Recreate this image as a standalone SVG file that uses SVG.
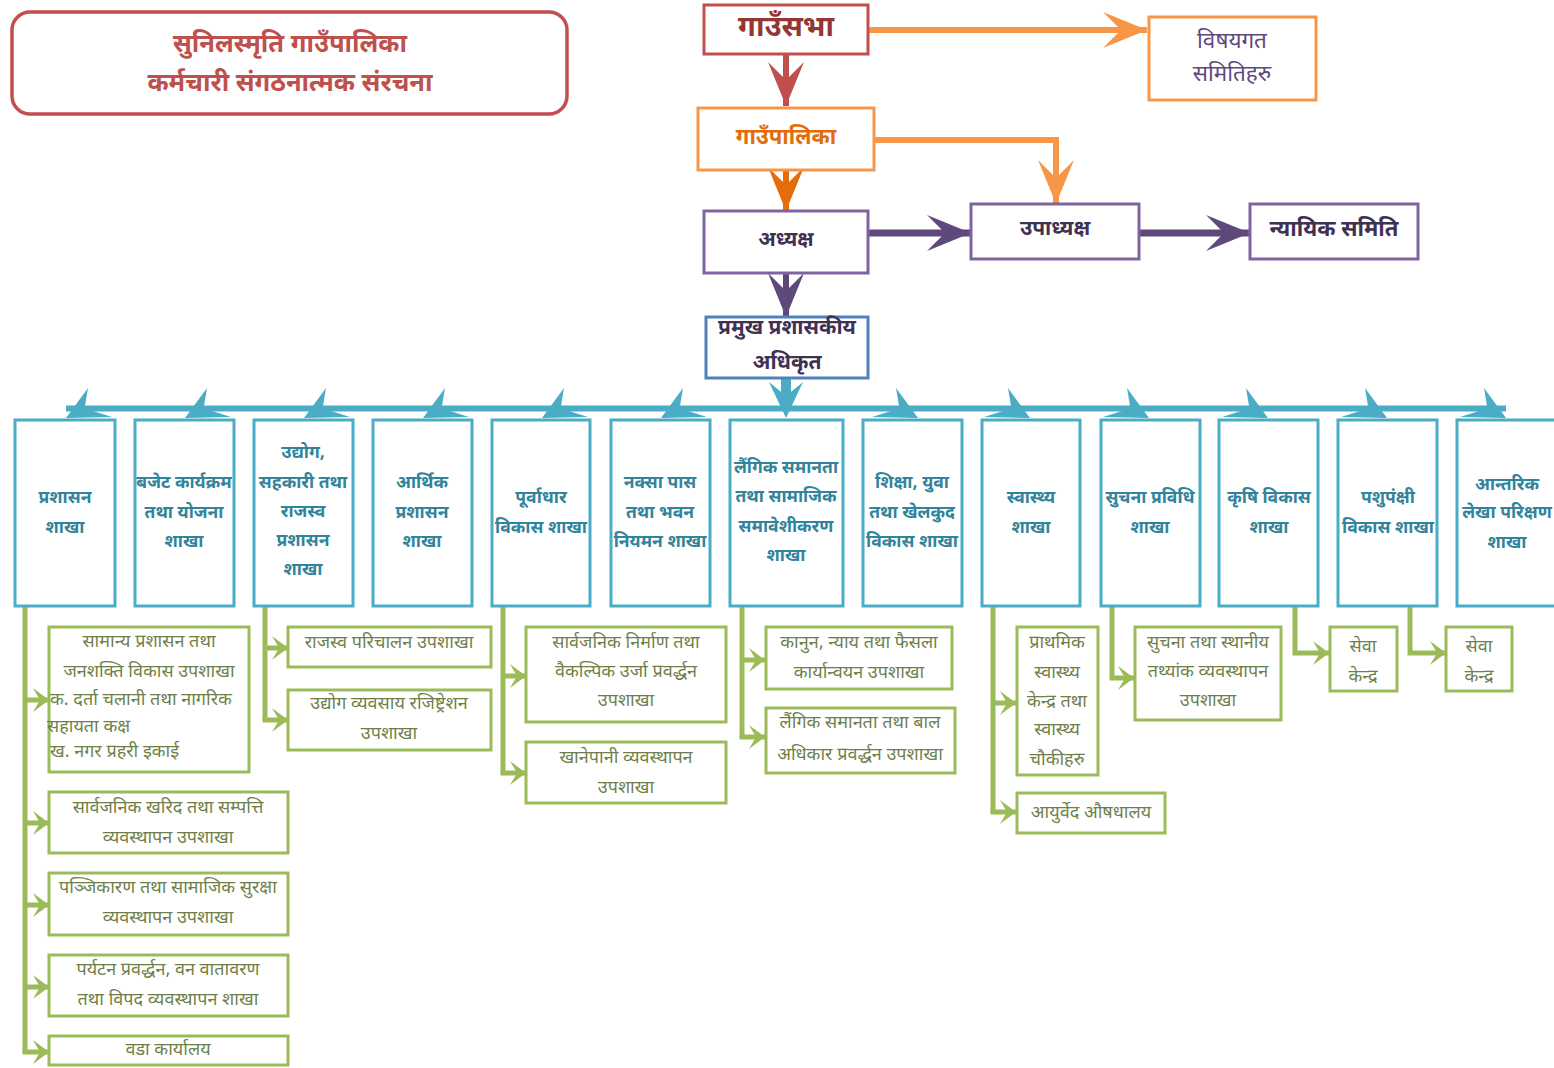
<svg xmlns="http://www.w3.org/2000/svg" width="1554" height="1068" viewBox="0 0 1554 1068">
<defs>
<style>
text{font-family:"Noto Sans Devanagari","Lohit Devanagari","Mangal","Noto Serif Devanagari","Noto Sans",sans-serif;text-anchor:middle;dominant-baseline:central}
.tb{fill:#fff;stroke-width:3}
.br{fill:#fff;stroke:#4BACC6;stroke-width:3}
.br-t{fill:#31849B;font-size:17.5px;font-weight:bold}
.sb{fill:#fff;stroke:#9BBB59;stroke-width:3}
.sb-t{fill:#6F7F4A;font-size:18px}
.l{text-anchor:start}
.gl{fill:none;stroke:#9BBB59;stroke-width:5}
.ga{fill:none;stroke:#9BBB59;stroke-width:5;marker-end:url(#gch)}
</style>
<marker id="gch" markerUnits="userSpaceOnUse" markerWidth="18" markerHeight="26" refX="17" refY="13" orient="auto" viewBox="0 0 18 26"><path d="M1,1 L17,13 L1,25 L8,13 Z" fill="#9BBB59"/></marker>
<marker id="chR" markerUnits="userSpaceOnUse" markerWidth="46" markerHeight="38" refX="44" refY="19" orient="auto" viewBox="0 0 46 38"><path d="M0,1 L44,19 L0,37 L18,19 Z" fill="#C0504D"/></marker>
<marker id="chO" markerUnits="userSpaceOnUse" markerWidth="46" markerHeight="38" refX="44" refY="19" orient="auto" viewBox="0 0 46 38"><path d="M0,1 L44,19 L0,37 L18,19 Z" fill="#F79646"/></marker>
<marker id="chD" markerUnits="userSpaceOnUse" markerWidth="46" markerHeight="38" refX="44" refY="19" orient="auto" viewBox="0 0 46 38"><path d="M0,1 L44,19 L0,37 L18,19 Z" fill="#E46C0A"/></marker>
<marker id="chP" markerUnits="userSpaceOnUse" markerWidth="46" markerHeight="38" refX="44" refY="19" orient="auto" viewBox="0 0 46 38"><path d="M0,1 L44,19 L0,37 L18,19 Z" fill="#5F497A"/></marker>
</defs>

<g id="title">
<rect x="12" y="12" width="555" height="102" rx="18" fill="#fff" stroke="#C0504D" stroke-width="3.5"/>
<text x="290" y="45" fill="#C0504D" font-size="25.5" font-weight="bold">सुनिलस्मृति गाउँपालिका</text>
<text x="290" y="84" fill="#C0504D" font-size="25.5" font-weight="bold">कर्मचारी संगठनात्मक संरचना</text>
</g>

<g id="connectors">
<path d="M786,54 V106" stroke="#C0504D" stroke-width="6" fill="none" marker-end="url(#chR)"/>
<path d="M868,30 H1147" stroke="#F79646" stroke-width="6" fill="none" marker-end="url(#chO)"/>
<path d="M874,140 H1056 V204" stroke="#F79646" stroke-width="6" fill="none" marker-end="url(#chO)"/>
<path d="M786,170 V211" stroke="#E46C0A" stroke-width="6" fill="none" marker-end="url(#chD)"/>
<path d="M868,233 H971" stroke="#5F497A" stroke-width="7" fill="none" marker-end="url(#chP)"/>
<path d="M1139,233 H1250" stroke="#5F497A" stroke-width="7" fill="none" marker-end="url(#chP)"/>
<path d="M786,273 V317" stroke="#5F497A" stroke-width="6" fill="none" marker-end="url(#chP)"/>
<g fill="#4BACC6">
<rect x="66" y="405.5" width="1440" height="6"/>
<rect x="781" y="378" width="10" height="24"/>
<path d="M769,382 L786,396 L803,382 L786,418 Z"/>
<path d="M66,418 L88,388 L85,406 L93,411 L112,417 Z"/>
<path d="M185,418 L207,388 L204,406 L212,411 L231,417 Z"/>
<path d="M304,418 L326,388 L323,406 L331,411 L350,417 Z"/>
<path d="M423,418 L445,388 L442,406 L450,411 L469,417 Z"/>
<path d="M542,418 L564,388 L561,406 L569,411 L588,417 Z"/>
<path d="M661,418 L683,388 L680,406 L688,411 L707,417 Z"/>
<path d="M918,418 L896,388 L899,406 L891,411 L872,417 Z"/>
<path d="M1030,418 L1008,388 L1011,406 L1003,411 L984,417 Z"/>
<path d="M1149,418 L1127,388 L1130,406 L1122,411 L1103,417 Z"/>
<path d="M1268,418 L1246,388 L1249,406 L1241,411 L1222,417 Z"/>
<path d="M1387,418 L1365,388 L1368,406 L1360,411 L1341,417 Z"/>
<path d="M1506,418 L1484,388 L1487,406 L1479,411 L1460,417 Z"/>
</g>
<path class="gl" d="M25,606 V1052"/>
<path class="ga" d="M25,700 H49"/>
<path class="ga" d="M25,823 H49"/>
<path class="ga" d="M25,905 H49"/>
<path class="ga" d="M25,987 H49"/>
<path class="ga" d="M25,1050 V1052 H49"/>
<path class="gl" d="M265,606 V720"/>
<path class="ga" d="M265,648 H288"/>
<path class="ga" d="M265,718 V720 H288"/>
<path class="gl" d="M503,606 V773"/>
<path class="ga" d="M503,676 H526"/>
<path class="ga" d="M503,771 V773 H526"/>
<path class="gl" d="M742,606 V737"/>
<path class="ga" d="M742,660 H765"/>
<path class="ga" d="M742,735 V737 H765"/>
<path class="gl" d="M993,606 V812"/>
<path class="ga" d="M993,703 H1016"/>
<path class="ga" d="M993,810 V812 H1016"/>
<path class="ga" d="M1112,606 V678 H1134"/>
<path class="ga" d="M1295,606 V653 H1329"/>
<path class="ga" d="M1410,606 V653 H1446"/>
</g>

<g id="gaunsabha"><rect class="tb" x="704" y="5" width="164" height="49" stroke="#C0504D"/><text x="786" y="29" fill="#943634" font-size="29" font-weight="bold">गाउँसभा</text></g>
<g id="bishayagat"><rect class="tb" x="1149" y="17" width="167" height="83" stroke="#F79646"/><text x="1232" y="42" fill="#5F497A" font-size="22.5">विषयगत</text><text x="1232" y="75" fill="#5F497A" font-size="22.5">समितिहरु</text></g>
<g id="gaunpalika"><rect class="tb" x="698" y="108" width="176" height="62" stroke="#F79646"/><text x="786" y="138" fill="#E36C09" font-size="22" font-weight="bold">गाउँपालिका</text></g>
<g id="adhyaksha"><rect class="tb" x="704" y="211" width="164" height="62" stroke="#8064A2"/><text x="786" y="241" fill="#3F3151" font-size="20.5" font-weight="bold">अध्यक्ष</text></g>
<g id="upadhyaksha"><rect class="tb" x="971" y="204" width="168" height="55" stroke="#8064A2"/><text x="1055" y="230" fill="#3F3151" font-size="21" font-weight="bold">उपाध्यक्ष</text></g>
<g id="nyayik"><rect class="tb" x="1250" y="204" width="168" height="55" stroke="#8064A2"/><text x="1334" y="230" fill="#3F3151" font-size="22" font-weight="bold">न्यायिक समिति</text></g>
<g id="pramukh"><rect class="tb" x="706" y="317" width="162" height="61" stroke="#4F81BD"/><text x="787" y="329" fill="#403152" font-size="21" font-weight="bold">प्रमुख प्रशासकीय</text><text x="787" y="364" fill="#403152" font-size="21" font-weight="bold">अधिकृत</text></g>

<g id="b1"><rect class="br" x="15" y="420" width="100" height="186"/><text class="br-t" x="65" y="498">प्रशासन</text><text class="br-t" x="65" y="528">शाखा</text></g>
<g id="b2"><rect class="br" x="135" y="420" width="99" height="186"/><text class="br-t" x="184" y="483">बजेट कार्यक्रम</text><text class="br-t" x="184" y="513">तथा योजना</text><text class="br-t" x="184" y="542">शाखा</text></g>
<g id="b3"><rect class="br" x="254" y="420" width="99" height="186"/><text class="br-t" x="303" y="453">उद्योग,</text><text class="br-t" x="303" y="483">सहकारी तथा</text><text class="br-t" x="303" y="512">राजस्व</text><text class="br-t" x="303" y="541">प्रशासन</text><text class="br-t" x="303" y="570">शाखा</text></g>
<g id="b4"><rect class="br" x="373" y="420" width="99" height="186"/><text class="br-t" x="422" y="483">आर्थिक</text><text class="br-t" x="422" y="513">प्रशासन</text><text class="br-t" x="422" y="542">शाखा</text></g>
<g id="b5"><rect class="br" x="492" y="420" width="98" height="186"/><text class="br-t" x="541" y="498">पूर्वाधार</text><text class="br-t" x="541" y="528">विकास शाखा</text></g>
<g id="b6"><rect class="br" x="611" y="420" width="99" height="186"/><text class="br-t" x="660" y="483">नक्सा पास</text><text class="br-t" x="660" y="513">तथा भवन</text><text class="br-t" x="660" y="542">नियमन शाखा</text></g>
<g id="b7"><rect class="br" x="730" y="420" width="113" height="186"/><text class="br-t" x="786" y="468">लैंगिक समानता</text><text class="br-t" x="786" y="497">तथा सामाजिक</text><text class="br-t" x="786" y="527">समावेशीकरण</text><text class="br-t" x="786" y="556">शाखा</text></g>
<g id="b8"><rect class="br" x="863" y="420" width="99" height="186"/><text class="br-t" x="912" y="483">शिक्षा, युवा</text><text class="br-t" x="912" y="513">तथा खेलकुद</text><text class="br-t" x="912" y="542">विकास शाखा</text></g>
<g id="b9"><rect class="br" x="982" y="420" width="98" height="186"/><text class="br-t" x="1031" y="498">स्वास्थ्य</text><text class="br-t" x="1031" y="528">शाखा</text></g>
<g id="b10"><rect class="br" x="1101" y="420" width="99" height="186"/><text class="br-t" x="1150" y="498">सुचना प्रविधि</text><text class="br-t" x="1150" y="528">शाखा</text></g>
<g id="b11"><rect class="br" x="1219" y="420" width="99" height="186"/><text class="br-t" x="1269" y="498">कृषि विकास</text><text class="br-t" x="1269" y="528">शाखा</text></g>
<g id="b12"><rect class="br" x="1338" y="420" width="99" height="186"/><text class="br-t" x="1388" y="498">पशुपंक्षी</text><text class="br-t" x="1388" y="528">विकास शाखा</text></g>
<g id="b13"><rect class="br" x="1457" y="420" width="110" height="186"/><text class="br-t" x="1507" y="485">आन्तरिक</text><text class="br-t" x="1507" y="513">लेखा परिक्षण</text><text class="br-t" x="1507" y="543">शाखा</text></g>

<g id="s1a"><rect class="sb" x="49" y="627" width="200" height="145"/><text class="sb-t" x="149" y="642">सामान्य प्रशासन तथा</text><text class="sb-t" x="149" y="672">जनशक्ति विकास उपशाखा</text><text class="sb-t l" x="50" y="700">क. दर्ता चलानी तथा नागरिक</text><text class="sb-t l" x="47" y="727">सहायता कक्ष</text><text class="sb-t l" x="50" y="752">ख. नगर प्रहरी इकाई</text></g>
<g id="s1b"><rect class="sb" x="49" y="792" width="239" height="61"/><text class="sb-t" x="168" y="808">सार्वजनिक खरिद तथा सम्पत्ति</text><text class="sb-t" x="168" y="838">व्यवस्थापन उपशाखा</text></g>
<g id="s1c"><rect class="sb" x="49" y="873" width="239" height="62"/><text class="sb-t" x="168" y="888">पञ्जिकारण तथा सामाजिक सुरक्षा</text><text class="sb-t" x="168" y="918">व्यवस्थापन उपशाखा</text></g>
<g id="s1d"><rect class="sb" x="49" y="955" width="239" height="61"/><text class="sb-t" x="168" y="970">पर्यटन  प्रवर्द्धन, वन वातावरण</text><text class="sb-t" x="168" y="1000">तथा विपद व्यवस्थापन शाखा</text></g>
<g id="s1e"><rect class="sb" x="49" y="1036" width="239" height="29"/><text class="sb-t" x="168" y="1050">वडा कार्यालय</text></g>
<g id="s3a"><rect class="sb" x="288" y="627" width="203" height="40"/><text class="sb-t" x="389" y="643">राजस्व परिचालन उपशाखा</text></g>
<g id="s3b"><rect class="sb" x="288" y="690" width="203" height="60"/><text class="sb-t" x="389" y="704">उद्योग व्यवसाय रजिष्ट्रेशन</text><text class="sb-t" x="389" y="734">उपशाखा</text></g>
<g id="s5a"><rect class="sb" x="526" y="627" width="200" height="95"/><text class="sb-t" x="626" y="643">सार्वजनिक निर्माण तथा</text><text class="sb-t" x="626" y="672">वैकल्पिक उर्जा प्रवर्द्धन</text><text class="sb-t" x="626" y="701">उपशाखा</text></g>
<g id="s5b"><rect class="sb" x="526" y="742" width="200" height="61"/><text class="sb-t" x="626" y="758">खानेपानी व्यवस्थापन</text><text class="sb-t" x="626" y="788">उपशाखा</text></g>
<g id="s7a"><rect class="sb" x="766" y="627" width="186" height="62"/><text class="sb-t" x="859" y="643">कानुन, न्याय तथा फैसला</text><text class="sb-t" x="859" y="673">कार्यान्वयन उपशाखा</text></g>
<g id="s7b"><rect class="sb" x="766" y="708" width="189" height="65"/><text class="sb-t" x="860" y="723">लैंगिक समानता तथा बाल</text><text class="sb-t" x="860" y="755">अधिकार प्रवर्द्धन उपशाखा</text></g>
<g id="s9a"><rect class="sb" x="1017" y="627" width="81" height="148"/><text class="sb-t" x="1057" y="643">प्राथमिक</text><text class="sb-t" x="1057" y="673">स्वास्थ्य</text><text class="sb-t" x="1057" y="702">केन्द्र तथा</text><text class="sb-t" x="1057" y="730">स्वास्थ्य</text><text class="sb-t" x="1057" y="760">चौकीहरु</text></g>
<g id="s9b"><rect class="sb" x="1017" y="793" width="148" height="40"/><text class="sb-t" x="1091" y="813">आयुर्वेद औषधालय</text></g>
<g id="s10a"><rect class="sb" x="1135" y="627" width="146" height="93"/><text class="sb-t" x="1208" y="643">सुचना तथा स्थानीय</text><text class="sb-t" x="1208" y="672">तथ्यांक व्यवस्थापन</text><text class="sb-t" x="1208" y="701">उपशाखा</text></g>
<g id="s11a"><rect class="sb" x="1330" y="627" width="67" height="64"/><text class="sb-t" x="1363" y="647">सेवा</text><text class="sb-t" x="1363" y="677">केन्द्र</text></g>
<g id="s12a"><rect class="sb" x="1446" y="627" width="66" height="64"/><text class="sb-t" x="1479" y="647">सेवा</text><text class="sb-t" x="1479" y="677">केन्द्र</text></g>
</svg>
